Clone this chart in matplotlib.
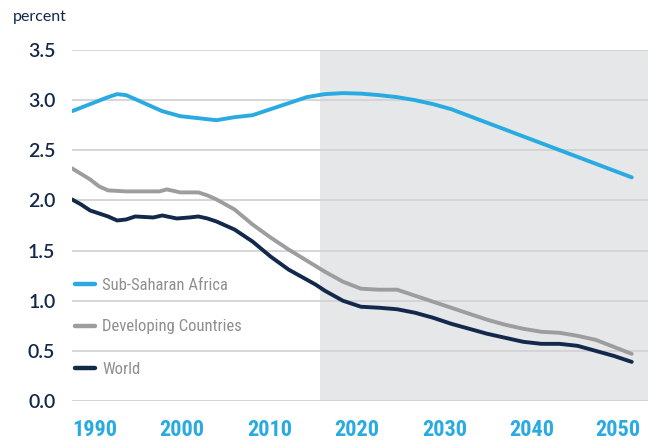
import matplotlib
matplotlib.use("Agg")
import matplotlib.pyplot as plt
from matplotlib import font_manager

# Sub-Saharan Africa
ssa_years = [1988, 1990, 1992, 1993, 1994, 1996, 1998, 2000, 2002, 2004, 2006,
             2008, 2010, 2012, 2014, 2016, 2018, 2020, 2022, 2024, 2026, 2028,
             2030, 2035, 2040, 2045, 2050]
ssa_vals = [2.89, 2.96, 3.03, 3.06, 3.05, 2.97, 2.89, 2.84, 2.82, 2.80, 2.83,
            2.85, 2.91, 2.97, 3.03, 3.06, 3.07, 3.065, 3.05, 3.03, 3.00, 2.96,
            2.91, 2.74, 2.57, 2.40, 2.23]

# Developing countries
dev_years = [1988, 1990, 1991, 1992, 1994, 1996, 1997.7, 1998.5, 2000, 2002,
             2003, 2004, 2006, 2008, 2010, 2012, 2014, 2016, 2018, 2020, 2022,
             2024, 2026, 2028, 2030, 2032, 2034, 2036, 2038, 2040, 2042, 2044,
             2046, 2048, 2050]
dev_vals = [2.32, 2.21, 2.14, 2.10, 2.09, 2.09, 2.09, 2.11, 2.08, 2.08,
            2.05, 2.01, 1.91, 1.76, 1.63, 1.51, 1.40, 1.29, 1.19, 1.12, 1.11,
            1.11, 1.05, 0.99, 0.93, 0.87, 0.81, 0.76, 0.72, 0.69, 0.68, 0.65,
            0.61, 0.54, 0.47]

# World
wld_years = [1988, 1989, 1990, 1991, 1992, 1993, 1994, 1995, 1997, 1998,
             1999.6, 2001, 2002, 2003, 2004, 2006, 2008, 2010, 2012, 2014,
             2015, 2016, 2018, 2020, 2022, 2024, 2026, 2028, 2030, 2032, 2034,
             2036, 2038, 2040, 2042, 2044, 2046, 2048, 2050]
wld_vals = [2.01, 1.96, 1.90, 1.87, 1.84, 1.80, 1.81, 1.84, 1.83, 1.85,
            1.82, 1.83, 1.84, 1.82, 1.79, 1.71, 1.59, 1.44, 1.31, 1.21,
            1.16, 1.10, 1.00, 0.94, 0.93, 0.915, 0.88, 0.83, 0.77, 0.72, 0.67,
            0.63, 0.59, 0.57, 0.57, 0.55, 0.50, 0.45, 0.39]

xtick_labels = ["1990", "2000", "2010", "2020", "2030", "2040", "2050"]
# label centres sit slightly off the exact years in the original
xtick_pos = [1990.5, 2000.2, 2009.9, 2019.5, 2029.3, 2038.9, 2048.5]
yticks = [0.0, 0.5, 1.0, 1.5, 2.0, 2.5, 3.0, 3.5]
proj_start = 2015.5

BLUE = '#29abe2'
GREY = '#9d9d9f'
NAVY = '#13294b'

names = {f.name for f in font_manager.fontManager.ttflist}


def pick(*cands):
    for c in cands:
        if c in names:
            return c
    return 'DejaVu Sans'


cond = pick('Roboto Condensed', 'Barlow Condensed', 'Archivo Narrow', 'IBM Plex Sans Condensed')
lato = pick('Lato')

fig = plt.figure(figsize=(6.57, 4.40), dpi=100)
ax = fig.add_axes([72 / 657, 39 / 440, 576 / 657, 351 / 440])

ax.axvspan(proj_start, 2052, color='#e6e7e8', zorder=0, lw=0)
for y in yticks:
    ax.axhline(y, color='#d3d3d5', lw=1.3, zorder=1)

ax.plot(ssa_years, ssa_vals, color=BLUE, lw=2.8, label='Sub-Saharan Africa',
        solid_capstyle='round', zorder=3)
ax.plot(dev_years, dev_vals, color=GREY, lw=2.8, label='Developing Countries',
        solid_capstyle='round', zorder=3)
ax.plot(wld_years, wld_vals, color=NAVY, lw=2.8, label='World',
        solid_capstyle='round', zorder=3)

ax.set_xlim(1988, 2051.8)
ax.set_ylim(0, 3.5)
for s in ax.spines.values():
    s.set_visible(False)

ax.set_yticks(yticks)
ax.set_yticklabels([f"{v:.1f}" for v in yticks], fontsize=14, color=NAVY,
                   family=lato, fontweight='semibold')
ax.set_xticks(xtick_pos)
ax.set_xticklabels(xtick_labels, fontsize=16, color=BLUE, family=cond,
                   fontweight='bold')
ax.tick_params(axis='both', length=0)
ax.tick_params(axis='y', pad=12)
ax.tick_params(axis='x', pad=13)

fig.text(13 / 657, 1 - 17 / 440, 'percent', fontsize=11.5, color=NAVY,
         family=lato, va='center', ha='left')

leg = ax.legend(loc='center left', bbox_to_anchor=(3 / 576, (401 - 327) / 351),
                frameon=False, borderpad=0, borderaxespad=0,
                handlelength=1.2, handletextpad=0.42, labelspacing=1.62,
                prop={'family': cond, 'size': 12})
for t in leg.get_texts():
    t.set_color('#8f8f91')
for h in leg.legend_handles:
    h.set_linewidth(3.2)

fig.savefig('out.png', dpi=100)
